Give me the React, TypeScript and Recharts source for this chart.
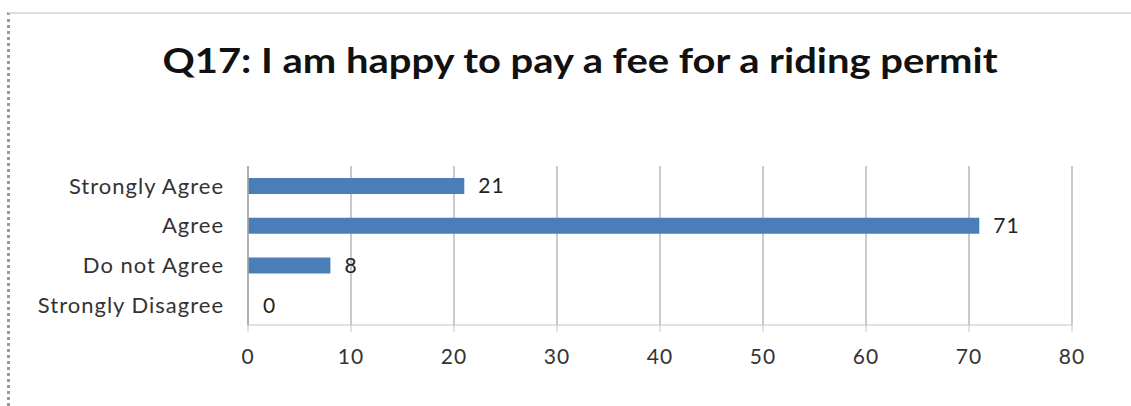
import { Bar, BarChart, CartesianGrid, LabelList, Rectangle, XAxis, YAxis } from "recharts";

const categories = ["Strongly Agree", "Agree", "Do not Agree", "Strongly Disagree"];
const responses = [21, 71, 8, 0];
const xTicks = [0, 10, 20, 30, 40, 50, 60, 70, 80];

const rows = categories.map((c, i) => ({ label: c, count: responses[i] }));

const FONT = "Lato, 'Open Sans', sans-serif";

// zero-valued bars get a 1px min size so their label still shows; draw nothing for them
const BarShape = (props: any) =>
  props.count === 0 ? <g /> : <Rectangle {...props} />;

export default function App() {
  return (
    <div
      style={{
        position: "absolute",
        left: 0,
        top: 0,
        width: 1131,
        height: 406,
        background: "#fff",
        fontFamily: FONT,
      }}
    >
      <div
        style={{
          position: "absolute",
          left: 7,
          top: 12,
          width: 1124,
          height: 394,
          borderLeft: "3px dotted #9a9a9a",
          borderTop: "2px solid #dedede",
          boxSizing: "border-box",
        }}
      />
      <svg
        width={1131}
        height={100}
        style={{ position: "absolute", left: 0, top: 0 }}
      >
        <text
          x={580}
          y={73}
          textAnchor="middle"
          fontFamily={FONT}
          fontWeight={700}
          fontSize={35}
          fill="#111"
          textLength={835}
          lengthAdjust="spacingAndGlyphs"
        >
          Q17: I am happy to pay a fee for a riding permit
        </text>
      </svg>
      <div style={{ position: "absolute", left: 0, top: 0 }}>
        <BarChart
          width={1131}
          height={406}
          data={rows}
          layout="vertical"
          barSize={16}
          margin={{ top: 166, right: 59, bottom: 41, left: 0 }}
        >
          <CartesianGrid horizontal={false} stroke="#b8b8b8" strokeWidth={1.5} />
          <XAxis
            type="number"
            domain={[0, 80]}
            ticks={xTicks}
            interval={0}
            height={40}
            stroke="#c4c4c4"
            tickSize={7}
            tick={{ fill: "#333", fontSize: 21, fontFamily: FONT, dy: 15, letterSpacing: 1 }}
          />
          <YAxis
            type="category"
            dataKey="label"
            width={248}
            stroke="#a8a8a8"
            strokeWidth={1.5}
            tickLine={false}
            tick={{ fill: "#333", fontSize: 22, fontFamily: FONT, dx: -16, letterSpacing: 1 }}
          />
          <Bar
            dataKey="count"
            fill="#4a7ebb"
            minPointSize={1}
            shape={BarShape}
            isAnimationActive={false}
          >
            <LabelList
              dataKey="count"
              position="right"
              offset={14}
              fill="#222"
              fontSize={21}
              fontFamily={FONT}
              letterSpacing={1}
            />
          </Bar>
        </BarChart>
      </div>
    </div>
  );
}
